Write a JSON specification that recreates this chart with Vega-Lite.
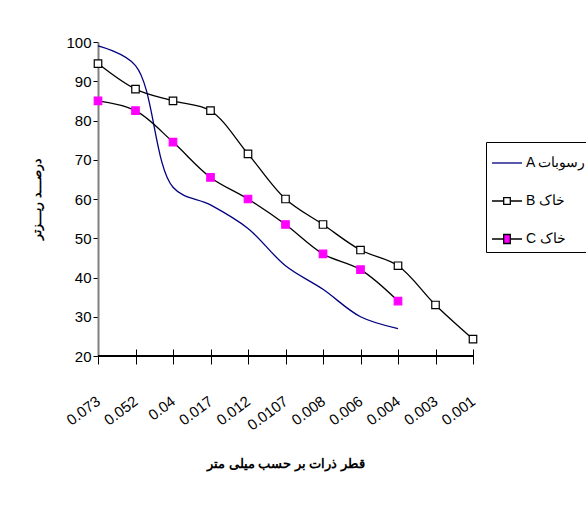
{
  "$schema": "https://vega.github.io/schema/vega-lite/v6.json",
  "width": 375,
  "height": 314,
  "padding": {"left": 30, "top": 35, "right": 5, "bottom": 5},
  "autosize": {"type": "pad"},
  "background": "white",
  "config": {
    "view": {"stroke": null},
    "font": "Liberation Sans",
    "axis": {"grid": false, "labelColor": "black", "titleColor": "black", "tickColor": "black"},
    "axisX": {
      "titleFont": "Liberation Sans", "titleFontSize": 13, "titleFontWeight": "bold", "titlePadding": 25,
      "labelFont": "Liberation Sans Narrow, Arial Narrow, Liberation Sans, sans-serif",
      "labelFontSize": 15, "labelAngle": -37, "labelAlign": "right", "labelBaseline": "middle",
      "labelPadding": 35, "offset": -7, "tickSize": 15, "tickWidth": 1, "domain": false
    },
    "axisY": {
      "titleFont": "Liberation Sans", "titleFontSize": 12, "titleFontWeight": "bold", "titlePadding": 22,
      "labelFont": "Liberation Sans Narrow, Arial Narrow, Liberation Sans, sans-serif",
      "labelFontSize": 15, "labelPadding": 2, "values": [20, 30, 40, 50, 60, 70, 80, 90, 100],
      "tickSize": 5, "domainColor": "#808080", "domainWidth": 2
    }
  },
  "datasets": {
    "rows": [
      {"d": "0.073", "series": "A رسوبات", "value": 99},
      {"d": "0.052", "series": "A رسوبات", "value": 94},
      {"d": "0.04", "series": "A رسوبات", "value": 63},
      {"d": "0.017", "series": "A رسوبات", "value": 58.5},
      {"d": "0.012", "series": "A رسوبات", "value": 52.5},
      {"d": "0.0107", "series": "A رسوبات", "value": 43},
      {"d": "0.008", "series": "A رسوبات", "value": 37},
      {"d": "0.006", "series": "A رسوبات", "value": 30},
      {"d": "0.004", "series": "A رسوبات", "value": 27},
      {"d": "0.073", "series": "B خاک", "value": 94.5},
      {"d": "0.052", "series": "B خاک", "value": 88},
      {"d": "0.04", "series": "B خاک", "value": 85},
      {"d": "0.017", "series": "B خاک", "value": 82.5},
      {"d": "0.012", "series": "B خاک", "value": 71.5},
      {"d": "0.0107", "series": "B خاک", "value": 60},
      {"d": "0.008", "series": "B خاک", "value": 53.5},
      {"d": "0.006", "series": "B خاک", "value": 47},
      {"d": "0.004", "series": "B خاک", "value": 43},
      {"d": "0.003", "series": "B خاک", "value": 33},
      {"d": "0.001", "series": "B خاک", "value": 24.3},
      {"d": "0.073", "series": "C خاک", "value": 85},
      {"d": "0.052", "series": "C خاک", "value": 82.5},
      {"d": "0.04", "series": "C خاک", "value": 74.5},
      {"d": "0.017", "series": "C خاک", "value": 65.5},
      {"d": "0.012", "series": "C خاک", "value": 60},
      {"d": "0.0107", "series": "C خاک", "value": 53.5},
      {"d": "0.008", "series": "C خاک", "value": 46},
      {"d": "0.006", "series": "C خاک", "value": 42},
      {"d": "0.004", "series": "C خاک", "value": 34}
    ]
  },
  "data": {"name": "rows"},
  "layer": [
    {
      "mark": {"type": "line", "interpolate": "catmull-rom", "strokeWidth": 1.3},
      "encoding": {
        "x": {
          "field": "d", "type": "ordinal", "title": "قطر ذرات بر حسب میلی متر", "axis": {"labelAngle": -37},
          "scale": {"type": "point", "padding": 0, "domain": ["0.073", "0.052", "0.04", "0.017", "0.012", "0.0107", "0.008", "0.006", "0.004", "0.003", "0.001"]}
        },
        "y": {
          "field": "value", "type": "quantitative", "title": "درصـــد ریـــزتر",
          "scale": {"domain": [20, 100]}
        },
        "detail": {"field": "series"},
        "stroke": {"condition": {"test": "datum.series === 'A رسوبات'", "value": "#000080"}, "value": "black"}
      }
    },
    {
      "mark": {"type": "rule", "color": "black", "strokeWidth": 1},
      "encoding": {
        "y": {"datum": 20, "type": "quantitative", "title": "درصـــد ریـــزتر"}
      }
    },
    {
      "transform": [{"filter": "datum.series !== 'A رسوبات'"}],
      "mark": {"type": "point", "shape": "square", "size": 56, "opacity": 1, "strokeWidth": 1.2},
      "encoding": {
        "x": {"field": "d", "type": "ordinal", "title": "قطر ذرات بر حسب میلی متر", "axis": {"labelAngle": -37}},
        "y": {"field": "value", "type": "quantitative", "title": "درصـــد ریـــزتر"},
        "fill": {"condition": {"test": "datum.series === 'C خاک'", "value": "#ff00ff"}, "value": "white"},
        "stroke": {"condition": {"test": "datum.series === 'C خاک'", "value": "#ff00ff"}, "value": "black"}
      }
    },
    {
      "transform": [{"filter": "false"}],
      "mark": {"type": "point", "size": 900, "opacity": 1},
      "encoding": {
        "x": {"field": "d", "type": "ordinal", "title": "قطر ذرات بر حسب میلی متر", "axis": {"labelAngle": -37}},
        "y": {"field": "value", "type": "quantitative", "title": "درصـــد ریـــزتر"},
        "shape": {
          "field": "series", "type": "nominal",
          "scale": {"domain": ["A رسوبات", "B خاک", "C خاک"], "range": ["M-1,0H1", "M-1,0H-0.22M0.22,0H1M-0.22,-0.22H0.22V0.22H-0.22Z", "M-1,0H-0.22M0.22,0H1M-0.22,-0.3H0.22V0.3H-0.22Z"]},
          "legend": {
            "title": null, "orient": "none", "legendX": 388, "legendY": 100,
            "strokeColor": "black", "fillColor": "white", "padding": 5, "rowPadding": 15,
            "symbolSize": 900, "symbolStrokeWidth": 1.3, "symbolOpacity": 1,
            "labelFont": "Liberation Sans", "labelFontSize": 14, "labelColor": "black", "labelOffset": 3
          }
        },
        "fill": {
          "field": "series", "type": "nominal",
          "scale": {"domain": ["A رسوبات", "B خاک", "C خاک"], "range": ["transparent", "white", "#ff00ff"]}
        },
        "stroke": {
          "field": "series", "type": "nominal",
          "scale": {"domain": ["A رسوبات", "B خاک", "C خاک"], "range": ["#000080", "black", "black"]}
        }
      }
    }
  ]
}
